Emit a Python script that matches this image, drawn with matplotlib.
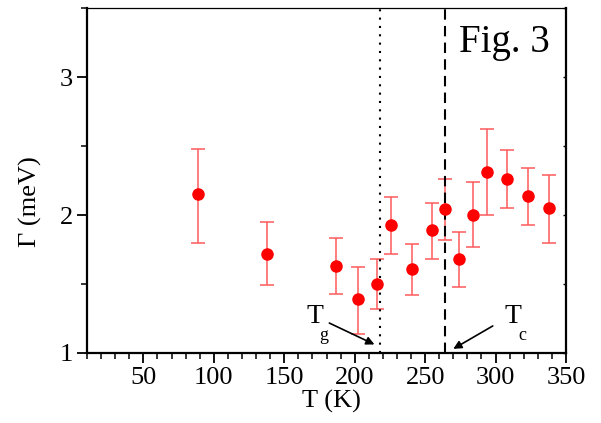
import matplotlib
matplotlib.use('Agg')
import matplotlib.pyplot as plt
from matplotlib.ticker import MultipleLocator

# data
temp = [89, 138, 187, 202, 216, 226, 241, 255, 264, 274, 284, 294, 308, 323, 338]
gamma = [2.15, 1.72, 1.63, 1.39, 1.50, 1.93, 1.61, 1.89, 2.04, 1.68, 2.00, 2.31, 2.26, 2.14, 2.05]
err_up = [2.48, 1.95, 1.83, 1.62, 1.68, 2.13, 1.79, 2.09, 2.26, 1.88, 2.24, 2.62, 2.47, 2.34, 2.29]
err_lo = [1.80, 1.49, 1.43, 1.14, 1.32, 1.72, 1.42, 1.68, 1.82, 1.48, 1.77, 2.00, 2.05, 1.93, 1.80]
t_g = 218
t_c = 264

plt.rcParams['font.family'] = ['Liberation Serif', 'DejaVu Serif']

fig = plt.figure(figsize=(6.01, 4.23), dpi=100)
ax = fig.add_axes([0.1448, 0.1655, 0.797, 0.8155])

yerr = [[g - lo for g, lo in zip(gamma, err_lo)], [up - g for g, up in zip(gamma, err_up)]]
ax.errorbar(temp, gamma, yerr=yerr, fmt='none', ecolor='#ff5a5a', elinewidth=1.1,
            capsize=5, capthick=1.1, zorder=2)
ax.plot(temp, gamma, 'o', color='#ff0000', markersize=8, zorder=3)

ax.axvline(t_g, color='black', linestyle=(0, (1, 3)), linewidth=1.5)
ax.axvline(t_c, color='black', linestyle=(0, (5, 3)), linewidth=1.5)

ax.set_xlim(10, 350)
ax.set_ylim(1, 3.5)
ax.set_xticks([50, 100, 150, 200, 250, 300, 350])
ax.xaxis.set_minor_locator(MultipleLocator(10))
ax.yaxis.set_major_locator(MultipleLocator(1))
ax.yaxis.set_minor_locator(MultipleLocator(0.5))

ax.tick_params(which='major', direction='out', length=7, width=1.3, labelsize=19, pad=3,
               top=False, right=False)
ax.tick_params(which='minor', direction='out', length=4, width=1.1, top=False, right=False)

for s in ['left', 'bottom', 'right']:
    ax.spines[s].set_linewidth(1.6)
ax.spines['top'].set_linewidth(0.9)

# small inward ticks on the right side
ax2 = ax.twinx()
ax2.set_ylim(1, 3.5)
ax2.yaxis.set_major_locator(MultipleLocator(0.5))
ax2.tick_params(direction='in', length=2, width=1, labelright=False)
for s in ax2.spines.values():
    s.set_visible(False)

ax.set_xlabel('T (K)', fontsize=19)
ax.set_ylabel('\u0393 (meV)', fontsize=19)
ax.xaxis.set_label_coords(0.511, -0.107)
ax.yaxis.set_label_coords(-0.094, 0.44)

ax.text(0.967, 0.90, 'Fig. 3', transform=ax.transAxes, fontsize=28, ha='right', va='center')

# T_g and T_c markers
arrow = dict(arrowstyle='-|>', color='black', lw=1.2, mutation_scale=12, shrinkA=0, shrinkB=0)
ax.annotate('', xy=(214, 1.062), xytext=(182, 1.217), arrowprops=arrow)
ax.text(171.7, 1.268, 'T', fontsize=20, ha='center', va='center')
ax.text(178, 1.13, 'g', fontsize=13, ha='center', va='center')
ax.annotate('', xy=(270, 1.03), xytext=(298, 1.196), arrowprops=arrow)
ax.text(312, 1.268, 'T', fontsize=20, ha='center', va='center')
ax.text(319, 1.13, 'c', fontsize=13, ha='center', va='center')

fig.savefig('out.png', dpi=100)
